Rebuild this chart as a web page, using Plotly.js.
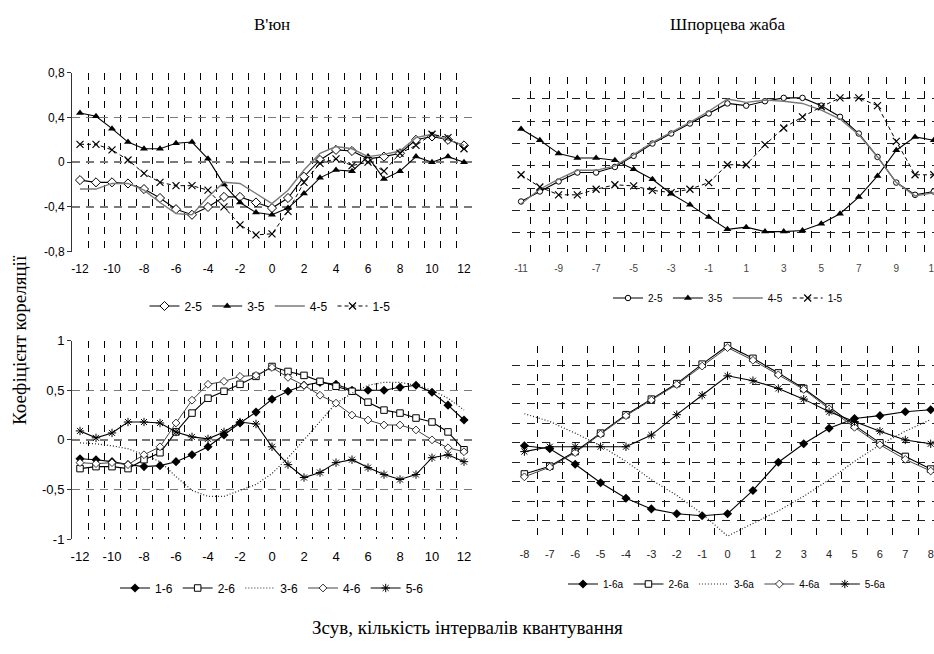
<!DOCTYPE html>
<html><head><meta charset="utf-8">
<script src="https://cdn.plot.ly/plotly-3.0.1.min.js"></script>
<style>html,body{margin:0;padding:0;background:#fff}#chart{width:934px;height:654px}</style>
</head><body><div id="chart"></div>
<script>
// ---------- data ----------
const xVyun = [-12,-11,-10,-9,-8,-7,-6,-5,-4,-3,-2,-1,0,1,2,3,4,5,6,7,8,9,10,11,12];
const vyun25 = [-0.16,-0.18,-0.18,-0.19,-0.24,-0.32,-0.42,-0.47,-0.40,-0.31,-0.31,-0.36,-0.41,-0.32,-0.13,0.02,0.11,0.10,0.03,0.05,0.08,0.20,0.23,0.20,0.15];
const vyun35 = [0.44,0.41,0.30,0.18,0.12,0.12,0.17,0.18,0.03,-0.20,-0.36,-0.45,-0.47,-0.41,-0.28,-0.14,-0.07,-0.08,0.05,-0.15,-0.08,0.05,0.0,0.05,0.0];
const vyun45 = [-0.24,-0.24,-0.19,-0.19,-0.25,-0.36,-0.46,-0.47,-0.31,-0.18,-0.19,-0.28,-0.37,-0.25,-0.07,0.08,0.14,0.12,0.05,0.07,0.10,0.22,0.25,0.20,0.15];
const vyun15 = [0.16,0.16,0.11,0.02,-0.10,-0.18,-0.21,-0.21,-0.25,-0.40,-0.56,-0.65,-0.64,-0.44,-0.18,-0.01,0.03,-0.03,0.0,-0.08,0.08,0.15,0.25,0.22,0.12];

const xZhaba = [-11,-10,-9,-8,-7,-6,-5,-4,-3,-2,-1,0,1,2,3,4,5,6,7,8,9,10,11];
const zhaba25 = [-0.32,-0.23,-0.14,-0.06,-0.06,-0.01,0.09,0.20,0.29,0.38,0.47,0.56,0.54,0.58,0.61,0.61,0.54,0.44,0.29,0.08,-0.15,-0.26,-0.23];
const zhaba35 = [0.33,0.23,0.11,0.07,0.07,0.05,-0.03,-0.12,-0.25,-0.35,-0.46,-0.57,-0.55,-0.59,-0.59,-0.58,-0.52,-0.43,-0.28,-0.09,0.14,0.26,0.23];
const zhaba45 = [-0.34,-0.21,-0.12,-0.04,-0.04,0.0,0.10,0.21,0.30,0.39,0.49,0.60,0.57,0.59,0.58,0.56,0.50,0.42,0.28,0.08,-0.15,-0.27,-0.24];
const zhaba15 = [-0.08,-0.19,-0.26,-0.26,-0.21,-0.17,-0.18,-0.22,-0.24,-0.21,-0.15,0.01,0.01,0.19,0.34,0.44,0.53,0.61,0.61,0.54,0.22,-0.08,-0.08];

const xVyun6 = [-12,-11,-10,-9,-8,-7,-6,-5,-4,-3,-2,-1,0,1,2,3,4,5,6,7,8,9,10,11,12];
const vyun16 = [-0.19,-0.20,-0.22,-0.25,-0.27,-0.26,-0.22,-0.15,-0.07,0.05,0.17,0.28,0.41,0.49,0.55,0.58,0.56,0.50,0.50,0.50,0.53,0.55,0.48,0.35,0.20];
const vyun26 = [-0.29,-0.27,-0.27,-0.29,-0.20,-0.13,0.08,0.27,0.42,0.49,0.56,0.64,0.74,0.69,0.65,0.59,0.54,0.49,0.38,0.30,0.27,0.22,0.18,0.08,-0.10];
const vyun36 = [-0.03,-0.04,-0.06,-0.09,-0.15,-0.22,-0.37,-0.51,-0.57,-0.57,-0.51,-0.45,-0.34,-0.18,0.0,0.18,0.37,0.47,0.55,0.58,0.58,0.55,0.50,0.42,0.30];
const vyun46 = [-0.23,-0.24,-0.23,-0.25,-0.15,-0.07,0.17,0.40,0.56,0.59,0.64,0.65,0.73,0.63,0.55,0.45,0.37,0.25,0.20,0.15,0.15,0.10,0.0,-0.08,-0.12];
const vyun56 = [0.09,0.02,0.07,0.18,0.18,0.17,0.08,0.03,0.01,0.08,0.18,0.16,-0.07,-0.25,-0.38,-0.33,-0.23,-0.20,-0.28,-0.35,-0.40,-0.35,-0.18,-0.15,-0.22];

const xZhaba6 = [-8,-7,-6,-5,-4,-3,-2,-1,0,1,2,3,4,5,6,7,8];
const zhaba16 = [-0.03,-0.06,-0.22,-0.41,-0.57,-0.68,-0.73,-0.75,-0.73,-0.49,-0.20,-0.01,0.15,0.25,0.28,0.32,0.34];
const zhaba26 = [-0.32,-0.24,-0.09,0.10,0.29,0.45,0.61,0.81,1.00,0.87,0.72,0.56,0.37,0.18,0.0,-0.14,-0.27];
const zhaba36 = [0.30,0.22,0.10,-0.03,-0.19,-0.38,-0.54,-0.73,-0.96,-0.83,-0.70,-0.55,-0.38,-0.19,-0.02,0.12,0.24];
const zhaba46 = [-0.35,-0.25,-0.10,0.09,0.28,0.44,0.60,0.79,0.98,0.85,0.70,0.55,0.35,0.16,-0.02,-0.17,-0.29];
const zhaba56 = [-0.09,-0.04,-0.04,-0.04,-0.04,0.08,0.29,0.49,0.69,0.64,0.56,0.45,0.32,0.22,0.12,0.03,-0.01];

const tickVyunX = [-12,-10,-8,-6,-4,-2,0,2,4,6,8,10,12];
const tickZhabaX = [-11,-9,-7,-5,-3,-1,1,3,5,7,9,11];
const tickZhaba6X = [-8,-7,-6,-5,-4,-3,-2,-1,0,1,2,3,4,5,6,7,8];
const tickTopY = [-0.8,-0.4,0,0.4,0.8];
const tickTopYText = ['-0,8','-0,4','0','0,4','0,8'];
const tickBotY = [-1,-0.5,0,0.5,1];
const tickBotYText = ['-1','-0,5','0','0,5','1'];
const gridTopRightY = [-0.8,-0.6,-0.4,-0.2,0,0.2,0.4,0.6,0.8];
const gridBotRightY = [-1,-0.8,-0.6,-0.4,-0.2,0,0.2,0.4,0.6,0.8,1];

const names5 = ['2-5','3-5','4-5','1-5'];
const names6 = ['1-6','2-6','3-6','4-6','5-6'];
const names6a = ['1-6a','2-6a','3-6a','4-6a','5-6a'];
const titleVyun = "В'юн";
const titleZhaba = 'Шпорцева жаба';
const yTitle = 'Коефіцієнт кореляції';
const xTitle = 'Зсув, кількість інтервалів квантування';

// ---------- helpers ----------
const W = 934, H = 654;
const px = v => v / W;
const py = v => 1 - v / H;
const SANS = 'Liberation Sans, Arial, sans-serif';
const SERIF = 'Liberation Serif, Times New Roman, serif';

function tr(x, y, name, xa, ya, leg, style) {
  return Object.assign({x: x, y: y, name: name, xaxis: xa, yaxis: ya, legend: leg,
    type: 'scatter', cliponaxis: false}, style);
}
const stDiamondOpen = {mode:'lines+markers', line:{color:'#000', width:1.1},
  marker:{symbol:'diamond', size:7, color:'#fff', line:{color:'#000', width:1}}};
const stCircleOpen = {mode:'lines+markers', line:{color:'#000', width:1.1},
  marker:{symbol:'circle', size:5.5, color:'#fff', line:{color:'#000', width:1}}};
const stTriangle = {mode:'lines+markers', line:{color:'#000', width:1.1},
  marker:{symbol:'triangle-up', size:7, color:'#000'}};
const stGrey = {mode:'lines', line:{color:'#7a7a7a', width:1.4}};
const stCross = {mode:'lines+markers', line:{color:'#000', width:1, dash:'4px,3px'},
  marker:{symbol:'x-thin', size:7, color:'#000', line:{color:'#000', width:1.2}}};
const stDiamondFill = {mode:'lines+markers', line:{color:'#000', width:1.1},
  marker:{symbol:'diamond', size:7, color:'#000'}};
const stSquareOpen = {mode:'lines+markers', line:{color:'#000', width:1.1},
  marker:{symbol:'square', size:6.5, color:'#fff', line:{color:'#000', width:1}}};
const stDotted = {mode:'lines', line:{color:'#222', width:1.2, dash:'1px,2px'}};
const stDiamondSmall = {mode:'lines+markers', line:{color:'#444', width:1},
  marker:{symbol:'diamond', size:6, color:'#fff', line:{color:'#000', width:0.8}}};
const stAsterisk = {mode:'lines+markers', line:{color:'#000', width:1.1},
  marker:{symbol:'asterisk', size:7, color:'#000', line:{color:'#000', width:1}}};

const data = [
  tr(xVyun, vyun25, names5[0], 'x', 'y', 'legend', stDiamondOpen),
  tr(xVyun, vyun35, names5[1], 'x', 'y', 'legend', stTriangle),
  tr(xVyun, vyun45, names5[2], 'x', 'y', 'legend', stGrey),
  tr(xVyun, vyun15, names5[3], 'x', 'y', 'legend', stCross),

  tr(xZhaba, zhaba25, names5[0], 'x2', 'y2', 'legend2', stCircleOpen),
  tr(xZhaba, zhaba35, names5[1], 'x2', 'y2', 'legend2', stTriangle),
  tr(xZhaba, zhaba45, names5[2], 'x2', 'y2', 'legend2', stGrey),
  tr(xZhaba, zhaba15, names5[3], 'x2', 'y2', 'legend2', stCross),

  tr(xVyun6, vyun16, names6[0], 'x3', 'y3', 'legend3', stDiamondFill),
  tr(xVyun6, vyun26, names6[1], 'x3', 'y3', 'legend3', stSquareOpen),
  tr(xVyun6, vyun36, names6[2], 'x3', 'y3', 'legend3', stDotted),
  tr(xVyun6, vyun46, names6[3], 'x3', 'y3', 'legend3', stDiamondSmall),
  tr(xVyun6, vyun56, names6[4], 'x3', 'y3', 'legend3', stAsterisk),

  tr(xZhaba6, zhaba16, names6a[0], 'x4', 'y4', 'legend4', stDiamondFill),
  tr(xZhaba6, zhaba26, names6a[1], 'x4', 'y4', 'legend4', stSquareOpen),
  tr(xZhaba6, zhaba36, names6a[2], 'x4', 'y4', 'legend4', stDotted),
  tr(xZhaba6, zhaba46, names6a[3], 'x4', 'y4', 'legend4', stDiamondSmall),
  tr(xZhaba6, zhaba56, names6a[4], 'x4', 'y4', 'legend4', stAsterisk),
];

function xAxis(domain, range, anchor, tickvals, fsize, fcolor, standoff) {
  return {domain: domain, range: range, anchor: anchor, tickmode: 'array',
    tickvals: tickvals, ticktext: tickvals.map(String), showgrid: false,
    zeroline: false, showline: false, ticks: '', ticklabeloverflow: 'allow',
    ticklabelstandoff: standoff,
    tickfont: {family: SANS, size: fsize, color: fcolor},
    minor: {tickmode: 'linear', tick0: 0.5, dtick: 1, showgrid: true,
      gridcolor: '#000', gridwidth: 1, griddash: '7px,7px', ticks: ''}};
}
function yAxisLeft(domain, range, anchor, tickvals, ticktext, fsize) {
  return {domain: domain, range: range, anchor: anchor, tickmode: 'array',
    tickvals: tickvals, ticktext: ticktext, showgrid: true, gridcolor: '#7a7a7a',
    gridwidth: 1.5, griddash: '8px,6px', zeroline: false, showline: true,
    linecolor: '#333', linewidth: 1, ticks: 'outside', ticklen: 4, tickcolor: '#333',
    tickfont: {family: SANS, size: fsize, color: '#000'}};
}
function yAxisRight(domain, range, anchor, tickvals) {
  return {domain: domain, range: range, anchor: anchor, tickmode: 'array',
    tickvals: tickvals, showticklabels: false, showgrid: true, gridcolor: '#222',
    gridwidth: 1, griddash: '8px,7px', zeroline: false, showline: false, ticks: ''};
}
function legendAt(cx, cy, fsize) {
  return {orientation: 'h', x: px(cx), y: py(cy), xanchor: 'center', yanchor: 'middle',
    font: {family: SANS, size: fsize, color: '#000'}, bgcolor: 'rgba(0,0,0,0)',
    itemwidth: 30, tracegroupgap: 0};
}

const layout = {
  width: W, height: H, margin: {l: 0, r: 0, t: 0, b: 0}, paper_bgcolor: '#fff',
  plot_bgcolor: 'rgba(0,0,0,0)', showlegend: true,
  xaxis: xAxis([px(72), px(472)], [-12.5, 12.5], 'y', tickVyunX, 12, '#000', 8),
  yaxis: yAxisLeft([py(251.7), py(72.7)], [-0.8, 0.8], 'x', tickTopY, tickTopYText, 12),
  xaxis2: xAxis([px(511.7), 1], [-11.5, 11.01], 'y2', tickZhabaX, 10, '#444', 6),
  yaxis2: yAxisRight([py(255), py(76.7)], [-0.8, 0.8], 'x2', gridTopRightY),
  xaxis3: xAxis([px(72), px(472)], [-12.5, 12.5], 'y3', tickVyunX, 13, '#000', 8),
  yaxis3: yAxisLeft([py(539), py(340.7)], [-1, 1], 'x3', tickBotY, tickBotYText, 13),
  xaxis4: xAxis([px(511.7), 1], [-8.5, 8.13], 'y4', tickZhaba6X, 11, '#222', 6),
  yaxis4: yAxisRight([py(540), py(345.7)], [-1, 1], 'x4', gridBotRightY),
  legend: legendAt(270, 306, 12),
  legend2: legendAt(728, 298, 10),
  legend3: legendAt(272, 588, 12),
  legend4: legendAt(727, 584, 10),
  annotations: [
    {text: titleVyun, xref: 'paper', yref: 'paper', x: px(272), y: py(25), showarrow: false,
      xanchor: 'center', yanchor: 'middle', font: {family: SERIF, size: 17, color: '#000'}},
    {text: titleZhaba, xref: 'paper', yref: 'paper', x: px(727), y: py(25), showarrow: false,
      xanchor: 'center', yanchor: 'middle', font: {family: SERIF, size: 17, color: '#000'}},
    {text: yTitle, xref: 'paper', yref: 'paper', x: px(20), y: py(340), showarrow: false,
      textangle: -90, xanchor: 'center', yanchor: 'middle', font: {family: SERIF, size: 19, color: '#000'}},
    {text: xTitle, xref: 'paper', yref: 'paper', x: px(467), y: py(627), showarrow: false,
      xanchor: 'center', yanchor: 'middle', font: {family: SERIF, size: 19, color: '#000'}}
  ]
};

Plotly.newPlot('chart', data, layout, {staticPlot: true, displayModeBar: false});
</script>
</body></html>
